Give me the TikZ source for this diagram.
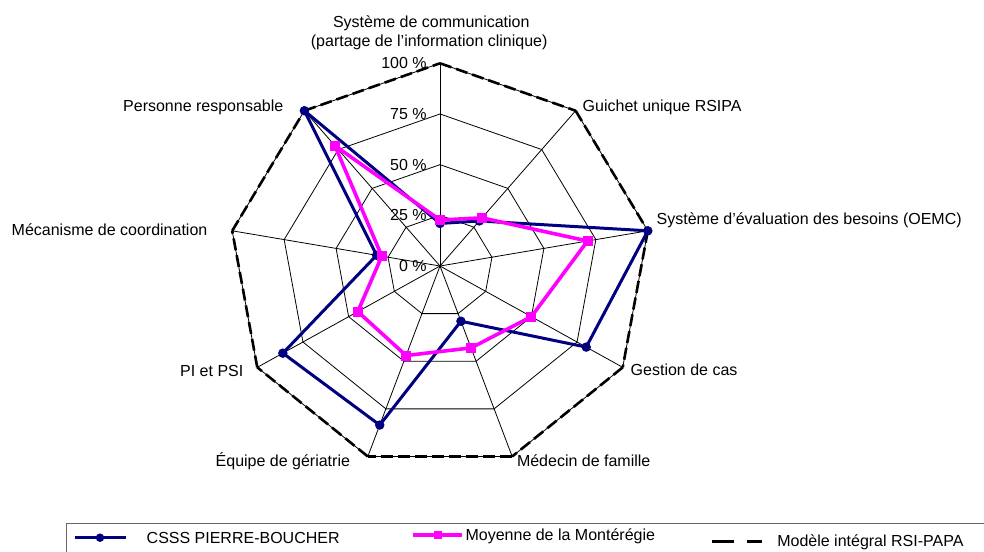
\documentclass[tikz,border=0pt]{standalone}
\usepackage{fontspec}
\setmainfont{Liberation Sans}
\definecolor{navyc}{RGB}{0,0,128}
\definecolor{magc}{RGB}{255,0,255}
\begin{document}
\begin{tikzpicture}[x=1pt,y=-1pt,
  font=\fontsize{16}{19}\selectfont,
  lbl/.style={inner sep=0pt, outer sep=0pt},
  gridline/.style={draw=black, line width=0.8pt},
  model/.style={draw=black, line width=2.6pt, dash pattern=on 12pt off 5pt},
  csss/.style={draw=navyc, line width=3pt, line join=round},
  moy/.style={draw=magc, line width=3.6pt, line join=round},
  dotmark/.style={circle, fill=navyc, inner sep=0pt, minimum size=9.5pt},
  sqmark/.style={rectangle, fill=magc, inner sep=0pt, minimum size=10pt}]
\useasboundingbox (0,0) rectangle (984,551);
\fill[white] (0,0) rectangle (984,551);

\begin{scope}[shift={(440pt,-266pt)}, x=2.11pt, y=2.027pt]
  \coordinate (c) at (0,0);
  \foreach \k in {0,...,8} {
    \coordinate (v\k) at ({90-40*\k}:100);
  }
  \foreach \k in {0,...,8} {
    \draw[gridline] (c) -- (v\k);
  }
  \foreach \r in {25,50,75,100} {
    \draw[gridline] (90:\r) \foreach \k in {1,...,8} { -- ({90-40*\k}:\r) } -- cycle;
  }
  % model (100 %)
  \foreach \k/\n in {0/1,1/2,2/3,3/4,4/5,5/6,6/7,7/8,8/0} {
    \draw[model] (v\k) -- (v\n);
  }
  % CSSS
  \foreach \k/\v in {0/21,1/29,2/100,3/80,4/29,5/83.5,6/86,7/30.5,8/100} {
    \coordinate (a\k) at ({90-40*\k}:\v);
  }
  % Moyenne
  \foreach \k/\v in {0/22.7,1/31,2/71,3/50,4/43,5/47,6/45,7/28,8/77.5} {
    \coordinate (b\k) at ({90-40*\k}:\v);
  }
  \draw[csss] (a0) -- (a1) -- (a2) -- (a3) -- (a4) -- (a5) -- (a6) -- (a7) -- (a8) -- cycle;
  \foreach \k in {0,...,8} { \node[dotmark] (am\k) at (a\k) {}; }
  \draw[moy] (b0) -- (b1) -- (b2) -- (b3) -- (b4) -- (b5) -- (b6) -- (b7) -- (b8) -- cycle;
  \foreach \k in {0,...,8} { \node[sqmark] (bm\k) at (b\k) {}; }
\end{scope}

% percent labels
\node[lbl, anchor=base east] (p100) at (426.7,68.8) {100 \%};
\node[lbl, anchor=base east] (p75) at (426.7,119.5) {75 \%};
\node[lbl, anchor=base east] (p50) at (426.7,170.2) {50 \%};
\node[lbl, anchor=base east] (p25) at (426.7,220.8) {25 \%};
\node[lbl, anchor=base east] (p0) at (426.7,271.5) {0 \%};

% axis labels
\node[lbl, anchor=base] (t1) at (431.3,27.3) {Système de communication};
\node[lbl, anchor=base] (t2) at (429.2,46.7) {(partage de l’information clinique)};
\node[lbl, anchor=base west] (g1) at (582.7,111.5) {Guichet unique RSIPA};
\node[lbl, anchor=base west] (g2) at (656.7,224) {Système d'évaluation des besoins (OEMC)};
\node[lbl, anchor=base west] (g3) at (630.7,375) {Gestion de cas};
\node[lbl, anchor=base west] (g4) at (517,466.7) {Médecin de famille};
\node[lbl, anchor=base east] (g5) at (350,466.7) {Équipe de gériatrie};
\node[lbl, anchor=base east] (g6) at (243.3,376) {PI et PSI};
\node[lbl, anchor=base west] (g7) at (11.7,235.7) {Mécanisme de coordination};
\node[lbl, anchor=base east] (g8) at (283.3,111.5) {Personne responsable};

% legend
\draw[draw=black!60, line width=1pt] (66,562) -- (66,523.3) -- (1000,523.3);
\coordinate (l1a) at (75,537.7);
\coordinate (l1b) at (126,537.7);
\draw[csss] (l1a) -- (l1b);
\node[dotmark, minimum size=8.5pt] (l1m) at (100,537.7) {};
\node[lbl, anchor=base west] (l1t) at (146.7,543.3) {CSSS PIERRE-BOUCHER};

\coordinate (l2a) at (413.3,535);
\coordinate (l2b) at (462.4,535);
\draw[moy] (l2a) -- (l2b);
\node[sqmark, minimum size=8.5pt] (l2m) at (438,535) {};
\node[lbl, anchor=base west] (l2t) at (465.6,540.5) {Moyenne de la Montérégie};

\coordinate (l3a) at (712.3,541.7);
\coordinate (l3b) at (734,541.7);
\coordinate (l3c) at (747.3,541.7);
\coordinate (l3d) at (762.3,541.7);
\draw[draw=black, line width=3.3pt] (l3a) -- (l3b);
\draw[draw=black, line width=3.3pt] (l3c) -- (l3d);
\node[lbl, anchor=base west] (l3t) at (777.3,546) {Modèle intégral RSI-PAPA};
\end{tikzpicture}
\end{document}
